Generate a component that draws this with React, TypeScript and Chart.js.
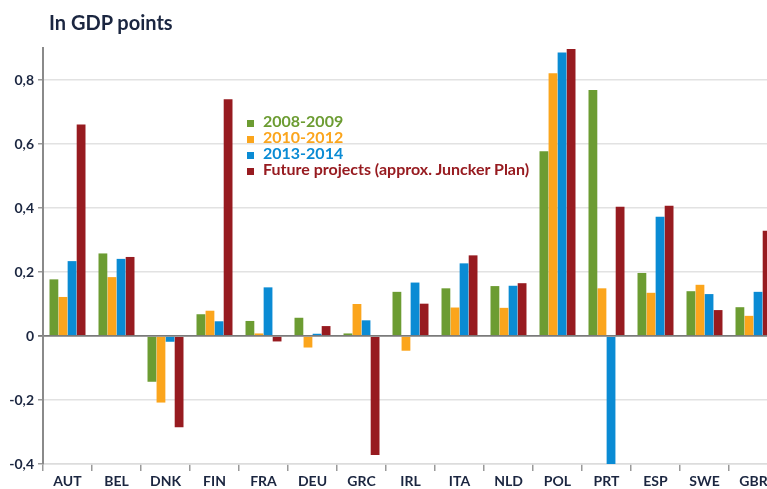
import React, { useEffect, useRef } from "react";
import { Chart, registerables } from "chart.js";

Chart.register(...registerables);

const CATEGORIES = ["AUT", "BEL", "DNK", "FIN", "FRA", "DEU", "GRC", "IRL", "ITA", "NLD", "POL", "PRT", "ESP", "SWE", "GBR"];
const S2008_2009 = [0.177, 0.258, -0.143, 0.068, 0.047, 0.057, 0.008, 0.138, 0.149, 0.156, 0.577, 0.769, 0.197, 0.14, 0.09];
const S2010_2012 = [0.122, 0.184, -0.208, 0.079, 0.008, -0.036, 0.1, -0.046, 0.089, 0.088, 0.821, 0.149, 0.135, 0.16, 0.063];
const S2013_2014 = [0.234, 0.241, -0.018, 0.046, 0.152, 0.007, 0.049, 0.167, 0.227, 0.157, 0.886, -0.5, 0.373, 0.131, 0.138];
const SFUTURE = [0.661, 0.247, -0.285, 0.74, -0.017, 0.031, -0.372, 0.101, 0.252, 0.165, 0.897, 0.404, 0.407, 0.081, 0.329];
const SERIES_NAMES = ["2008-2009", "2010-2012", "2013-2014", "Future projects (approx. Juncker Plan)"];
const COLORS = ["#6c9c32", "#fba51c", "#0a8bd4", "#971b20"];
const Y_TICKS = [-0.4, -0.2, 0, 0.2, 0.4, 0.6, 0.8];
const TITLE = "In GDP points";

const TEXT_COLOR = "#1b2640";
const FONT = "Lato, 'Open Sans', sans-serif";

export default function App() {
  const ref = useRef<HTMLCanvasElement | null>(null);

  useEffect(() => {
    if (!ref.current) return;
    const values = [S2008_2009, S2010_2012, S2013_2014, SFUTURE];
    const chart = new Chart(ref.current, {
      type: "bar",
      data: {
        labels: CATEGORIES,
        datasets: values.map((v, i) => ({
          label: SERIES_NAMES[i],
          data: v,
          backgroundColor: COLORS[i],
          borderWidth: 0,
          categoryPercentage: 0.74,
          barPercentage: 0.97,
        })),
      },
      options: {
        responsive: false,
        animation: false,
        layout: { padding: { top: 48, right: 12, left: 0, bottom: 0 } },
        plugins: {
          legend: { display: false },
          title: { display: false },
          tooltip: { enabled: false },
        },
        scales: {
          x: {
            offset: true,
            grid: {
              offset: true,
              drawOnChartArea: false,
              drawTicks: true,
              tickLength: 7,
              tickColor: "#9a9a9a",
              lineWidth: 1.5,
            },
            border: { display: true, color: "#dcdcdc", width: 1.5 },
            ticks: {
              color: TEXT_COLOR,
              font: { family: FONT, size: 14, weight: "bold" },
              padding: 2,
              maxRotation: 0,
              autoSkip: false,
            },
            afterFit: (scale: any) => {
              scale.height = 25;
            },
          },
          y: {
            min: -0.4,
            max: 0.9,
            afterBuildTicks: (scale: any) => {
              scale.ticks = Y_TICKS.map((v) => ({ value: v }));
            },
            afterFit: (scale: any) => {
              scale.width = 43;
            },
            grid: {
              color: (ctx: any) => (ctx.tick && ctx.tick.value === 0 ? "#7a7a7a" : "#e2e2e2"),
              lineWidth: (ctx: any) => (ctx.tick && ctx.tick.value === 0 ? 1.8 : 1.5),
              tickColor: (ctx: any) => (ctx.tick && ctx.tick.value === 0 ? "#7a7a7a" : "#9a9a9a"),
              tickLength: 5,
              drawTicks: true,
            },
            border: { display: true, color: "#8a8a8a", width: 2 },
            ticks: {
              color: TEXT_COLOR,
              font: { family: FONT, size: 14, weight: "bold" },
              padding: 4,
              callback: (v: any) => {
                const n = Number(v);
                if (Math.abs(n) < 1e-9) return "0";
                return n.toFixed(1).replace(".", ",");
              },
            },
          },
        },
      },
    });
    return () => chart.destroy();
  }, []);

  return (
    <div style={{ position: "absolute", left: 0, top: 0, width: 767, height: 489, overflow: "hidden", background: "#fff" }}>
      <canvas ref={ref} width={790} height={489} style={{ position: "absolute", left: 0, top: 0, width: 790, height: 489 }} />
      <div
        style={{
          position: "absolute",
          left: 49,
          top: 12,
          fontFamily: FONT,
          fontWeight: 700,
          fontSize: 20,
          lineHeight: "20px",
          color: TEXT_COLOR,
          whiteSpace: "nowrap",
        }}
      >
        {TITLE}
      </div>
      <div style={{ position: "absolute", left: 247, top: 113 }}>
        {SERIES_NAMES.map((name, i) => (
          <div key={name} style={{ position: "relative", height: 16, lineHeight: "16px", whiteSpace: "nowrap" }}>
            <span
              style={{
                position: "absolute",
                left: 0,
                top: 7,
                width: 7,
                height: 7,
                background: COLORS[i],
              }}
            />
            <span
              style={{
                position: "absolute",
                left: 16,
                top: 0,
                fontFamily: FONT,
                fontWeight: 700,
                fontSize: 16,
                color: COLORS[i],
              }}
            >
              {name}
            </span>
          </div>
        ))}
      </div>
    </div>
  );
}
